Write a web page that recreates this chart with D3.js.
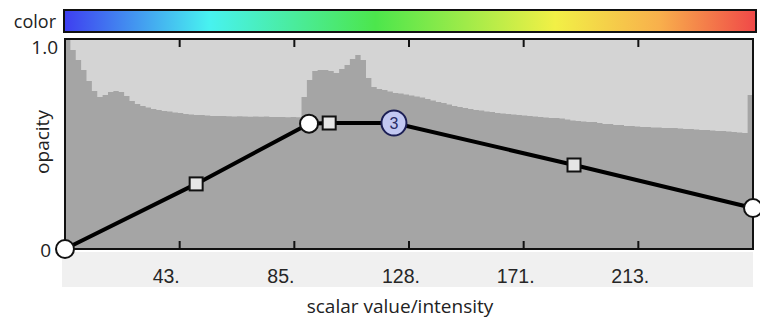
<!DOCTYPE html>
<html><head><meta charset="utf-8">
<script src="https://cdn.jsdelivr.net/npm/d3@7"></script>
<style>body{margin:0;background:#fff}</style>
</head><body>
<svg id="chart" width="760" height="322"></svg>
<script>
// Scalar range and axis ticks
const scalarMax = 256;
const tickValues = [256 / 6, 512 / 6, 128, 1024 / 6, 1280 / 6];
const tickLabels = ["43.", "85.", "128.", "171.", "213."];

// Intensity histogram, normalised to the opacity range, bins of width 2
const histBinWidth = 2;
const histogram = [
  1.0, 0.948, 0.90, 0.852, 0.80, 0.752, 0.724, 0.733, 0.748, 0.752,
  0.748, 0.729, 0.705, 0.69, 0.681, 0.674, 0.667, 0.662, 0.657, 0.655,
  0.65, 0.648, 0.643, 0.64, 0.638, 0.638, 0.636, 0.633, 0.633, 0.633,
  0.632, 0.631, 0.632, 0.631, 0.630, 0.631, 0.630, 0.631, 0.629, 0.628,
  0.628, 0.627, 0.628, 0.627, 0.724, 0.805, 0.848, 0.852, 0.852, 0.848,
  0.838, 0.857, 0.876, 0.905, 0.924, 0.90, 0.814, 0.771, 0.762, 0.757,
  0.75, 0.743, 0.74, 0.736, 0.731, 0.726, 0.721, 0.714, 0.707, 0.70,
  0.695, 0.688, 0.681, 0.676, 0.671, 0.667, 0.662, 0.66, 0.655, 0.652,
  0.648, 0.645, 0.643, 0.64, 0.638, 0.636, 0.633, 0.631, 0.629, 0.626,
  0.624, 0.624, 0.621, 0.617, 0.612, 0.61, 0.607, 0.605, 0.605, 0.60,
  0.595, 0.595, 0.59, 0.59, 0.586, 0.586, 0.583, 0.581, 0.581, 0.579,
  0.579, 0.576, 0.576, 0.576, 0.574, 0.571, 0.571, 0.569, 0.567, 0.567,
  0.564, 0.562, 0.562, 0.56, 0.557, 0.555, 0.552, 0.733
];

// Opacity transfer function: nodes (circles) and handles (squares)
const pointValue   = [0, 48.8, 90.8, 98.3, 122.4, 189.4, 256];
const pointOpacity = [0, 0.31, 0.597, 0.60, 0.60, 0.40, 0.195];
const pointKind    = ["node", "handle", "node", "handle", "node", "handle", "node"];
const selectedNode = 3;

// Colour map stops
const colorStops = [
  [0, "#3e3ef0"], [0.21, "#48f2f0"], [0.45, "#4ce64c"],
  [0.71, "#f2f046"], [0.86, "#f8b04c"], [1, "#f04848"]
];

const svg = d3.select("#chart");
const x = d3.scaleLinear().domain([0, scalarMax]).range([65, 753]);
const y = d3.scaleLinear().domain([0, 1]).range([249, 39]);
const [x0, x1] = x.range();
const [yb, yt] = y.range();
const uiFont = "Open Sans";

// Colour bar
const defs = svg.append("defs");
const grad = defs.append("linearGradient").attr("id", "cmap");
colorStops.forEach(([o, c]) => grad.append("stop").attr("offset", o).attr("stop-color", c));
svg.append("rect").attr("x", 64).attr("y", 10).attr("width", 692).attr("height", 22)
  .attr("fill", "url(#cmap)").attr("stroke", "#111").attr("stroke-width", 2);
svg.append("text").attr("x", 56).attr("y", 28).attr("text-anchor", "end")
  .attr("font-family", uiFont).attr("font-size", 18).attr("fill", "#222").text("color");

// Plot background and histogram
defs.append("clipPath").attr("id", "plotClip").append("rect")
  .attr("x", x0).attr("y", yt).attr("width", x1 - x0).attr("height", yb - yt);
svg.append("rect").attr("x", x0).attr("y", yt).attr("width", x1 - x0).attr("height", yb - yt)
  .attr("fill", "#d4d4d4");
const histPts = histogram.map((h, i) => [i * histBinWidth, h]);
histPts.push([scalarMax, histogram[histogram.length - 1]]);
const area = d3.area()
  .x(d => x(d[0])).y0(y(0)).y1(d => y(Math.min(d[1], 1)))
  .curve(d3.curveStepAfter);
svg.append("path").attr("d", area(histPts)).attr("fill", "#a5a5a5")
  .attr("clip-path", "url(#plotClip)");

// Tick label band
svg.append("rect").attr("x", 62).attr("y", 252).attr("width", x1 - 62).attr("height", 35)
  .attr("fill", "#f0f0f0");

// Frame
const frame = svg.append("g").attr("stroke", "#111").attr("stroke-width", 2).attr("fill", "none");
frame.append("path").attr("d", `M${x0},${yb}V${yt}H${x1}V${yb}`);
frame.append("line").attr("x1", x0 - 1).attr("x2", x1 + 1).attr("y1", yb).attr("y2", yb);

// Ticks on top and bottom edges
tickValues.forEach(v => {
  frame.append("line").attr("x1", x(v)).attr("x2", x(v)).attr("y1", yt).attr("y2", yt + 8);
  frame.append("line").attr("x1", x(v)).attr("x2", x(v)).attr("y1", yb).attr("y2", yb - 8);
});
svg.append("g").selectAll("text").data(tickValues).join("text")
  .attr("x", d => x(d) - 27).attr("y", 283)
  .attr("font-family", "Liberation Sans, Arial").attr("font-size", 19.5).attr("fill", "#262626")
  .text((d, i) => tickLabels[i]);

// Axis titles and y labels
svg.append("text").attr("x", 58).attr("y", 54).attr("text-anchor", "end")
  .attr("font-family", uiFont).attr("font-size", 19).attr("fill", "#222").text("1.0");
svg.append("text").attr("x", 51).attr("y", 257).attr("text-anchor", "end")
  .attr("font-family", uiFont).attr("font-size", 19).attr("fill", "#222").text("0");
svg.append("text").attr("transform", "translate(49,142) rotate(-90)").attr("text-anchor", "middle")
  .attr("font-family", uiFont).attr("font-size", 19).attr("fill", "#222").text("opacity");
svg.append("text").attr("x", 400).attr("y", 313).attr("text-anchor", "middle")
  .attr("font-family", uiFont).attr("font-size", 19).attr("fill", "#222")
  .text("scalar value/intensity");

// Transfer function polyline
const pts = pointValue.map((v, i) => ({ v, o: pointOpacity[i], kind: pointKind[i] }));
let nodeNo = 0;
pts.forEach(p => { if (p.kind === "node") p.n = ++nodeNo; });
svg.append("path").attr("d", d3.line().x(d => x(d.v)).y(d => y(d.o))(pts))
  .attr("fill", "none").attr("stroke", "#000").attr("stroke-width", 4);

// Handles
svg.append("g").selectAll("rect").data(pts.filter(p => p.kind === "handle")).join("rect")
  .attr("x", d => x(d.v) - 6.5).attr("y", d => y(d.o) - 6.5).attr("width", 13).attr("height", 13)
  .attr("fill", "#e6e6e6").attr("stroke", "#111").attr("stroke-width", 2);

// Nodes
const nodes = pts.filter(p => p.kind === "node");
svg.append("g").selectAll("circle").data(nodes).join("circle")
  .attr("cx", d => x(d.v)).attr("cy", d => y(d.o))
  .attr("r", d => d.n === selectedNode ? 12.5 : 9)
  .attr("fill", d => d.n === selectedNode ? "#c2c8f2" : "#ffffff")
  .attr("stroke", d => d.n === selectedNode ? "#1c1f55" : "#111")
  .attr("stroke-width", 2);
const sel = nodes.find(p => p.n === selectedNode);
svg.append("text").attr("x", x(sel.v)).attr("y", y(sel.o) + 6).attr("text-anchor", "middle")
  .attr("font-family", "Liberation Sans, Arial").attr("font-size", 16).attr("fill", "#2a2d66")
  .text(sel.n);
</script>
</body></html>
